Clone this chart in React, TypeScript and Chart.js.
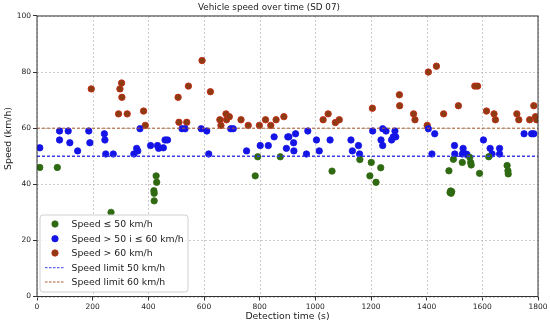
import { useEffect, useRef } from "react";
import { Chart, registerables } from "chart.js";

Chart.register(...registerables);

const FONT = "'DejaVu Sans', 'Liberation Sans', sans-serif";

const TITLE = "Vehicle speed over time (SD 07)";
const X_LABEL = "Detection time (s)";
const Y_LABEL = "Speed (km/h)";
const LEGEND_LABELS = [
  "Speed ≤ 50 km/h",
  "Speed > 50 i ≤ 60 km/h",
  "Speed > 60 km/h",
  "Speed limit 50 km/h",
  "Speed limit 60 km/h",
];

const X_MIN = 0;
const X_MAX = 1800;
const X_STEP = 200;
const Y_MIN = 0;
const Y_MAX = 100;
const Y_STEP = 20;
const LIMIT_50 = 50;
const LIMIT_60 = 60;

// Speed <= 50 km/h
const lowTimes = [10, 73, 266, 420, 421, 421, 428, 430, 784, 793, 874, 1060, 1160, 1196, 1201, 1218, 1235, 1480, 1484, 1486, 1488, 1490, 1496, 1528, 1555, 1558, 1560, 1590, 1623, 1689, 1692, 1693];
const lowSpeeds = [46, 46, 30, 37.7, 36.8, 34.1, 43, 40.7, 43, 49.8, 49.8, 44.7, 48.8, 43, 47.8, 40.7, 45.9, 44.8, 37.1, 37.6, 36.8, 37.4, 48.9, 47.8, 49.6, 47.8, 46.9, 43.9, 49.8, 46.7, 44.8, 43.7];

// 50 < speed <= 60 km/h
const midTimes = [10, 81, 81, 112, 118, 146, 186, 190, 242, 244, 247, 274, 348, 358, 362, 370, 408, 433, 437, 454, 460, 469, 521, 532, 590, 610, 617, 696, 705, 753, 802, 831, 852, 896, 901, 905, 922, 923, 929, 968, 973, 1004, 1014, 1053, 1128, 1133, 1155, 1159, 1206, 1236, 1242, 1242, 1254, 1274, 1280, 1286, 1289, 1406, 1419, 1429, 1500, 1501, 1528, 1531, 1541, 1545, 1604, 1628, 1635, 1662, 1662, 1750, 1777, 1785];
const midSpeeds = [53, 59, 55.8, 59, 54.8, 51.9, 59, 54.8, 58, 55.8, 50.8, 50.8, 50.8, 52.8, 51.9, 59.8, 53.8, 53.8, 52.8, 53, 55.8, 55.8, 59.8, 59.8, 59.8, 59, 50.8, 59.8, 59.8, 51.9, 53.8, 53.8, 56.9, 52.8, 56.9, 56.9, 54.8, 51.9, 58, 50.8, 59, 55.8, 51.9, 55.8, 55.8, 51.9, 53.8, 50.8, 59, 55.8, 59.8, 53.8, 59, 55.8, 56.9, 59, 56.9, 59.8, 50.8, 58, 53.8, 50.8, 50.8, 52.8, 50.8, 50.6, 55.8, 52.8, 50.8, 52.8, 50.8, 58, 58, 58];

// Speed > 60 km/h
const highTimes = [195, 293, 298, 304, 305, 324, 383, 389, 507, 510, 538, 544, 593, 623, 657, 661, 679, 681, 691, 733, 759, 799, 821, 840, 859, 887, 1028, 1046, 1072, 1086, 1205, 1302, 1303, 1353, 1358, 1402, 1406, 1435, 1461, 1514, 1573, 1583, 1615, 1642, 1647, 1724, 1731, 1770, 1785, 1791, 1795];
const highSpeeds = [74, 65.1, 74, 76.1, 71, 65.1, 66.1, 61, 71, 62.1, 62.1, 75, 84.1, 73, 63, 61, 65.1, 63, 64.1, 63, 61, 61, 63, 61, 63, 64.1, 63, 65.1, 62, 63, 67.1, 71.9, 68, 65.1, 63, 61, 80, 82.1, 65.1, 68, 75, 75, 66.1, 65.1, 63, 65.1, 63, 63, 68, 64.1, 63];

const GREEN = "#2f6a12";
const BLUE = "#1414e6";
const BROWN = "#8b3c12";
const BROWN_EDGE = "#c42a16";
const LINE50 = "#3a3ae6";
const LINE60 = "#b05a2a";

const toPoints = (xs: number[], ys: number[]) => xs.map((x, i) => ({ x, y: ys[i] }));

const gridPlugin = {
  id: "dottedGrid",
  beforeDatasetsDraw(chart: any) {
    const { ctx, chartArea, scales } = chart;
    const { left, right, top, bottom } = chartArea;
    ctx.save();
    ctx.strokeStyle = "#bdbdbd";
    ctx.lineWidth = 0.8;
    ctx.setLineDash([2, 2]);
    scales.x.ticks.forEach((t: any) => {
      const px = Math.round(scales.x.getPixelForValue(t.value)) + 0.5;
      ctx.beginPath();
      ctx.moveTo(px, top);
      ctx.lineTo(px, bottom);
      ctx.stroke();
    });
    scales.y.ticks.forEach((t: any) => {
      const py = Math.round(scales.y.getPixelForValue(t.value)) + 0.5;
      ctx.beginPath();
      ctx.moveTo(left, py);
      ctx.lineTo(right, py);
      ctx.stroke();
    });
    ctx.restore();
  },
};

const decorPlugin = {
  id: "decor",
  afterDraw(chart: any) {
    const { ctx, chartArea } = chart;
    const { left, right, top, bottom } = chartArea;
    ctx.save();
    // frame
    ctx.strokeStyle = "#333";
    ctx.lineWidth = 1;
    ctx.setLineDash([]);
    ctx.strokeRect(left, top, right - left, bottom - top);

    // y-axis title
    ctx.fillStyle = "#222";
    ctx.font = `9.3px ${FONT}`;
    ctx.textAlign = "center";
    ctx.textBaseline = "middle";
    ctx.save();
    ctx.translate(8.5, 138.5);
    ctx.rotate(-Math.PI / 2);
    ctx.fillText(Y_LABEL, 0, 0);
    ctx.restore();

    // legend
    const bx = left + 3;
    const by = bottom - 81.5;
    const bw = 148;
    const bh = 77;
    ctx.beginPath();
    const r = 3;
    ctx.moveTo(bx + r, by);
    ctx.lineTo(bx + bw - r, by);
    ctx.quadraticCurveTo(bx + bw, by, bx + bw, by + r);
    ctx.lineTo(bx + bw, by + bh - r);
    ctx.quadraticCurveTo(bx + bw, by + bh, bx + bw - r, by + bh);
    ctx.lineTo(bx + r, by + bh);
    ctx.quadraticCurveTo(bx, by + bh, bx, by + bh - r);
    ctx.lineTo(bx, by + r);
    ctx.quadraticCurveTo(bx, by, bx + r, by);
    ctx.closePath();
    ctx.fillStyle = "rgba(255,255,255,0.85)";
    ctx.fill();
    ctx.strokeStyle = "#d0d0d0";
    ctx.lineWidth = 1;
    ctx.stroke();

    const rowY = [by + 9, by + 23.7, by + 38, by + 52.7, by + 67];
    const markX = bx + 15;
    const textX = bx + 31.5;
    const markers = [
      { kind: "pt", fill: GREEN, edge: GREEN },
      { kind: "pt", fill: BLUE, edge: BLUE },
      { kind: "pt", fill: BROWN, edge: BROWN_EDGE },
      { kind: "ln", color: LINE50 },
      { kind: "ln", color: LINE60 },
    ];
    ctx.font = `9.3px ${FONT}`;
    ctx.textAlign = "left";
    ctx.textBaseline = "middle";
    markers.forEach((m: any, i) => {
      const y = rowY[i];
      if (m.kind === "pt") {
        ctx.beginPath();
        ctx.arc(markX, y, 3.2, 0, Math.PI * 2);
        ctx.fillStyle = m.fill;
        ctx.fill();
        ctx.strokeStyle = m.edge;
        ctx.lineWidth = 0.8;
        ctx.stroke();
      } else {
        ctx.beginPath();
        ctx.setLineDash([2.5, 1.5]);
        ctx.strokeStyle = m.color;
        ctx.lineWidth = 1;
        ctx.moveTo(markX - 10, y);
        ctx.lineTo(markX + 10, y);
        ctx.stroke();
        ctx.setLineDash([]);
      }
      ctx.fillStyle = "#222";
      ctx.fillText(LEGEND_LABELS[i], textX, y + 0.5);
    });
    ctx.restore();
  },
};

export default function App() {
  const ref = useRef<HTMLCanvasElement | null>(null);

  useEffect(() => {
    if (!ref.current) return;
    const chart = new Chart(ref.current, {
      type: "scatter",
      data: {
        datasets: [
          {
            type: "line",
            label: LEGEND_LABELS[3],
            data: [
              { x: X_MIN, y: LIMIT_50 },
              { x: X_MAX, y: LIMIT_50 },
            ],
            borderColor: LINE50,
            borderWidth: 1.3,
            borderDash: [3, 2],
            pointRadius: 0,
            fill: false,
            order: 1,
          } as any,
          {
            type: "line",
            label: LEGEND_LABELS[4],
            data: [
              { x: X_MIN, y: LIMIT_60 },
              { x: X_MAX, y: LIMIT_60 },
            ],
            borderColor: LINE60,
            borderWidth: 1,
            borderDash: [3, 2],
            pointRadius: 0,
            fill: false,
            order: 1,
          } as any,
          {
            label: LEGEND_LABELS[0],
            data: toPoints(lowTimes, lowSpeeds),
            backgroundColor: GREEN,
            borderColor: GREEN,
            borderWidth: 0.8,
            pointRadius: 3.2,
            order: 2,
          },
          {
            label: LEGEND_LABELS[1],
            data: toPoints(midTimes, midSpeeds),
            backgroundColor: BLUE,
            borderColor: BLUE,
            borderWidth: 0.8,
            pointRadius: 3.2,
            order: 2,
          },
          {
            label: LEGEND_LABELS[2],
            data: toPoints(highTimes, highSpeeds),
            backgroundColor: BROWN,
            borderColor: BROWN_EDGE,
            borderWidth: 0.9,
            pointRadius: 3.2,
            order: 2,
          },
        ],
      },
      options: {
        responsive: false,
        animation: false,
        events: [],
        layout: { padding: { left: 0, right: 12, top: 0, bottom: 0 } },
        plugins: {
          legend: { display: false },
          tooltip: { enabled: false },
          title: {
            display: true,
            text: TITLE,
            color: "#222",
            font: { family: FONT, size: 8.8, weight: "normal" },
            padding: { top: 2.7, bottom: 2.7 },
          },
        },
        scales: {
          x: {
            type: "linear",
            min: X_MIN,
            max: X_MAX,
            afterFit: (s: any) => {
              s.height = 28.5;
            },
            ticks: {
              stepSize: X_STEP,
              color: "#222",
              font: { family: FONT, size: 7.5 },
              padding: 2,
              maxRotation: 0,
              callback: (v: any) => String(v),
            },
            grid: {
              drawOnChartArea: false,
              color: "rgba(0,0,0,0)",
              tickLength: 4,
              tickColor: "#333",
              tickWidth: 1,
            },
            border: { display: false },
            title: {
              display: true,
              text: X_LABEL,
              color: "#222",
              font: { family: FONT, size: 9.3 },
              padding: { top: 0, bottom: 2.7 },
            },
          },
          y: {
            type: "linear",
            min: Y_MIN,
            max: Y_MAX,
            afterFit: (s: any) => {
              s.width = 37;
            },
            ticks: {
              stepSize: Y_STEP,
              color: "#222",
              font: { family: FONT, size: 7.5 },
              padding: 2,
              callback: (v: any) => String(v),
            },
            grid: {
              drawOnChartArea: false,
              color: "rgba(0,0,0,0)",
              tickLength: 4,
              tickColor: "#333",
              tickWidth: 1,
            },
            border: { display: false },
          },
        },
      },
      plugins: [gridPlugin, decorPlugin],
    });
    return () => chart.destroy();
  }, []);

  return (
    <div style={{ position: "fixed", left: 0, top: 0, width: 550, height: 325, background: "#fff" }}>
      <canvas ref={ref} width={550} height={325} style={{ width: 550, height: 325, display: "block" }} />
    </div>
  );
}
